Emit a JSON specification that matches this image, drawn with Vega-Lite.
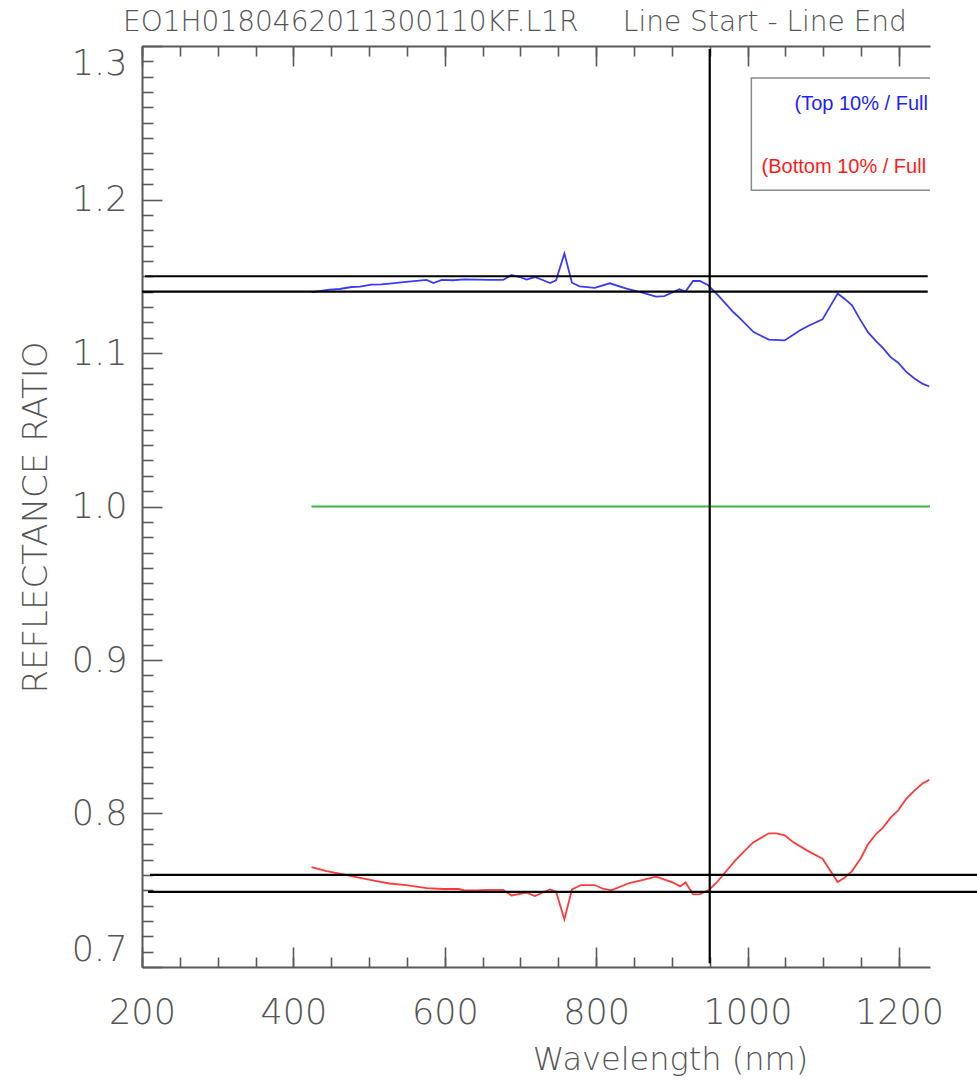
{
  "$schema": "https://vega.github.io/schema/vega-lite/v6.json",
  "width": 788,
  "height": 921,
  "autosize": {"type": "none"},
  "padding": {"left": 142, "top": 46, "right": 47, "bottom": 119},
  "title": {
    "text": "EO1H0180462011300110KF.L1R\u00a0\u00a0\u00a0\u00a0\u00a0Line Start - Line End",
    "anchor": "start",
    "frame": "group",
    "dx": -19,
    "offset": 8,
    "font": "DejaVu Sans",
    "fontSize": 28,
    "fontWeight": 200,
    "color": "#555555"
  },
  "config": {
    "view": {"stroke": null},
    "axis": {"grid": false, "domainColor": "#5a5a5a", "tickColor": "#5a5a5a", "labelColor": "#555555", "titleColor": "#555555"}
  },
  "datasets": {
    "spectra": [
      {"series": "Top 10% / Full Line", "wavelength": 424, "ratio": 1.1397},
      {"series": "Top 10% / Full Line", "wavelength": 448, "ratio": 1.1413},
      {"series": "Top 10% / Full Line", "wavelength": 461, "ratio": 1.1417},
      {"series": "Top 10% / Full Line", "wavelength": 477, "ratio": 1.1430},
      {"series": "Top 10% / Full Line", "wavelength": 488, "ratio": 1.1432},
      {"series": "Top 10% / Full Line", "wavelength": 503, "ratio": 1.1445},
      {"series": "Top 10% / Full Line", "wavelength": 516, "ratio": 1.1447},
      {"series": "Top 10% / Full Line", "wavelength": 527, "ratio": 1.1452},
      {"series": "Top 10% / Full Line", "wavelength": 549, "ratio": 1.1463},
      {"series": "Top 10% / Full Line", "wavelength": 576, "ratio": 1.1476},
      {"series": "Top 10% / Full Line", "wavelength": 585, "ratio": 1.1456},
      {"series": "Top 10% / Full Line", "wavelength": 596, "ratio": 1.1476},
      {"series": "Top 10% / Full Line", "wavelength": 611, "ratio": 1.1474},
      {"series": "Top 10% / Full Line", "wavelength": 626, "ratio": 1.1480},
      {"series": "Top 10% / Full Line", "wavelength": 642, "ratio": 1.1478},
      {"series": "Top 10% / Full Line", "wavelength": 659, "ratio": 1.1476},
      {"series": "Top 10% / Full Line", "wavelength": 677, "ratio": 1.1476},
      {"series": "Top 10% / Full Line", "wavelength": 688, "ratio": 1.1508},
      {"series": "Top 10% / Full Line", "wavelength": 699, "ratio": 1.1495},
      {"series": "Top 10% / Full Line", "wavelength": 708, "ratio": 1.1478},
      {"series": "Top 10% / Full Line", "wavelength": 719, "ratio": 1.1495},
      {"series": "Top 10% / Full Line", "wavelength": 730, "ratio": 1.1474},
      {"series": "Top 10% / Full Line", "wavelength": 739, "ratio": 1.1456},
      {"series": "Top 10% / Full Line", "wavelength": 747, "ratio": 1.1474},
      {"series": "Top 10% / Full Line", "wavelength": 758, "ratio": 1.1648},
      {"series": "Top 10% / Full Line", "wavelength": 768, "ratio": 1.1458},
      {"series": "Top 10% / Full Line", "wavelength": 778, "ratio": 1.1434},
      {"series": "Top 10% / Full Line", "wavelength": 798, "ratio": 1.1424},
      {"series": "Top 10% / Full Line", "wavelength": 818, "ratio": 1.1454},
      {"series": "Top 10% / Full Line", "wavelength": 840, "ratio": 1.1419},
      {"series": "Top 10% / Full Line", "wavelength": 862, "ratio": 1.1391},
      {"series": "Top 10% / Full Line", "wavelength": 879, "ratio": 1.1367},
      {"series": "Top 10% / Full Line", "wavelength": 890, "ratio": 1.1371},
      {"series": "Top 10% / Full Line", "wavelength": 910, "ratio": 1.1415},
      {"series": "Top 10% / Full Line", "wavelength": 918, "ratio": 1.1400},
      {"series": "Top 10% / Full Line", "wavelength": 928, "ratio": 1.1469},
      {"series": "Top 10% / Full Line", "wavelength": 937, "ratio": 1.1469},
      {"series": "Top 10% / Full Line", "wavelength": 948, "ratio": 1.1441},
      {"series": "Top 10% / Full Line", "wavelength": 963, "ratio": 1.1365},
      {"series": "Top 10% / Full Line", "wavelength": 981, "ratio": 1.1267},
      {"series": "Top 10% / Full Line", "wavelength": 989, "ratio": 1.1230},
      {"series": "Top 10% / Full Line", "wavelength": 1008, "ratio": 1.1136},
      {"series": "Top 10% / Full Line", "wavelength": 1028, "ratio": 1.1087},
      {"series": "Top 10% / Full Line", "wavelength": 1049, "ratio": 1.1082},
      {"series": "Top 10% / Full Line", "wavelength": 1069, "ratio": 1.1147},
      {"series": "Top 10% / Full Line", "wavelength": 1080, "ratio": 1.1176},
      {"series": "Top 10% / Full Line", "wavelength": 1099, "ratio": 1.1219},
      {"series": "Top 10% / Full Line", "wavelength": 1119, "ratio": 1.1387},
      {"series": "Top 10% / Full Line", "wavelength": 1128, "ratio": 1.1354},
      {"series": "Top 10% / Full Line", "wavelength": 1138, "ratio": 1.1310},
      {"series": "Top 10% / Full Line", "wavelength": 1148, "ratio": 1.1224},
      {"series": "Top 10% / Full Line", "wavelength": 1159, "ratio": 1.1136},
      {"series": "Top 10% / Full Line", "wavelength": 1170, "ratio": 1.1076},
      {"series": "Top 10% / Full Line", "wavelength": 1179, "ratio": 1.1032},
      {"series": "Top 10% / Full Line", "wavelength": 1189, "ratio": 1.0973},
      {"series": "Top 10% / Full Line", "wavelength": 1199, "ratio": 1.0937},
      {"series": "Top 10% / Full Line", "wavelength": 1209, "ratio": 1.0880},
      {"series": "Top 10% / Full Line", "wavelength": 1220, "ratio": 1.0836},
      {"series": "Top 10% / Full Line", "wavelength": 1231, "ratio": 1.0800},
      {"series": "Top 10% / Full Line", "wavelength": 1240, "ratio": 1.0782},
      {"series": "Bottom 10% / Full Line", "wavelength": 424, "ratio": 0.7651},
      {"series": "Bottom 10% / Full Line", "wavelength": 444, "ratio": 0.7625},
      {"series": "Bottom 10% / Full Line", "wavelength": 466, "ratio": 0.7603},
      {"series": "Bottom 10% / Full Line", "wavelength": 488, "ratio": 0.7581},
      {"series": "Bottom 10% / Full Line", "wavelength": 510, "ratio": 0.7560},
      {"series": "Bottom 10% / Full Line", "wavelength": 527, "ratio": 0.7544},
      {"series": "Bottom 10% / Full Line", "wavelength": 549, "ratio": 0.7534},
      {"series": "Bottom 10% / Full Line", "wavelength": 576, "ratio": 0.7514},
      {"series": "Bottom 10% / Full Line", "wavelength": 598, "ratio": 0.7508},
      {"series": "Bottom 10% / Full Line", "wavelength": 618, "ratio": 0.7508},
      {"series": "Bottom 10% / Full Line", "wavelength": 626, "ratio": 0.7499},
      {"series": "Bottom 10% / Full Line", "wavelength": 642, "ratio": 0.7499},
      {"series": "Bottom 10% / Full Line", "wavelength": 659, "ratio": 0.7503},
      {"series": "Bottom 10% / Full Line", "wavelength": 677, "ratio": 0.7503},
      {"series": "Bottom 10% / Full Line", "wavelength": 688, "ratio": 0.7466},
      {"series": "Bottom 10% / Full Line", "wavelength": 708, "ratio": 0.7484},
      {"series": "Bottom 10% / Full Line", "wavelength": 719, "ratio": 0.7462},
      {"series": "Bottom 10% / Full Line", "wavelength": 739, "ratio": 0.7505},
      {"series": "Bottom 10% / Full Line", "wavelength": 747, "ratio": 0.7490},
      {"series": "Bottom 10% / Full Line", "wavelength": 758, "ratio": 0.7310},
      {"series": "Bottom 10% / Full Line", "wavelength": 768, "ratio": 0.7505},
      {"series": "Bottom 10% / Full Line", "wavelength": 780, "ratio": 0.7534},
      {"series": "Bottom 10% / Full Line", "wavelength": 798, "ratio": 0.7534},
      {"series": "Bottom 10% / Full Line", "wavelength": 809, "ratio": 0.7510},
      {"series": "Bottom 10% / Full Line", "wavelength": 820, "ratio": 0.7499},
      {"series": "Bottom 10% / Full Line", "wavelength": 844, "ratio": 0.7547},
      {"series": "Bottom 10% / Full Line", "wavelength": 862, "ratio": 0.7568},
      {"series": "Bottom 10% / Full Line", "wavelength": 879, "ratio": 0.7588},
      {"series": "Bottom 10% / Full Line", "wavelength": 901, "ratio": 0.7551},
      {"series": "Bottom 10% / Full Line", "wavelength": 911, "ratio": 0.7525},
      {"series": "Bottom 10% / Full Line", "wavelength": 918, "ratio": 0.7551},
      {"series": "Bottom 10% / Full Line", "wavelength": 928, "ratio": 0.7473},
      {"series": "Bottom 10% / Full Line", "wavelength": 937, "ratio": 0.7475},
      {"series": "Bottom 10% / Full Line", "wavelength": 948, "ratio": 0.7499},
      {"series": "Bottom 10% / Full Line", "wavelength": 959, "ratio": 0.7549},
      {"series": "Bottom 10% / Full Line", "wavelength": 970, "ratio": 0.7614},
      {"series": "Bottom 10% / Full Line", "wavelength": 985, "ratio": 0.7701},
      {"series": "Bottom 10% / Full Line", "wavelength": 1007, "ratio": 0.7810},
      {"series": "Bottom 10% / Full Line", "wavelength": 1028, "ratio": 0.7871},
      {"series": "Bottom 10% / Full Line", "wavelength": 1038, "ratio": 0.7871},
      {"series": "Bottom 10% / Full Line", "wavelength": 1049, "ratio": 0.7858},
      {"series": "Bottom 10% / Full Line", "wavelength": 1060, "ratio": 0.7814},
      {"series": "Bottom 10% / Full Line", "wavelength": 1080, "ratio": 0.7755},
      {"series": "Bottom 10% / Full Line", "wavelength": 1099, "ratio": 0.7705},
      {"series": "Bottom 10% / Full Line", "wavelength": 1119, "ratio": 0.7553},
      {"series": "Bottom 10% / Full Line", "wavelength": 1128, "ratio": 0.7581},
      {"series": "Bottom 10% / Full Line", "wavelength": 1138, "ratio": 0.7625},
      {"series": "Bottom 10% / Full Line", "wavelength": 1150, "ratio": 0.7712},
      {"series": "Bottom 10% / Full Line", "wavelength": 1159, "ratio": 0.7799},
      {"series": "Bottom 10% / Full Line", "wavelength": 1170, "ratio": 0.7868},
      {"series": "Bottom 10% / Full Line", "wavelength": 1179, "ratio": 0.7908},
      {"series": "Bottom 10% / Full Line", "wavelength": 1189, "ratio": 0.7973},
      {"series": "Bottom 10% / Full Line", "wavelength": 1199, "ratio": 0.8021},
      {"series": "Bottom 10% / Full Line", "wavelength": 1209, "ratio": 0.8092},
      {"series": "Bottom 10% / Full Line", "wavelength": 1220, "ratio": 0.8147},
      {"series": "Bottom 10% / Full Line", "wavelength": 1231, "ratio": 0.8195},
      {"series": "Bottom 10% / Full Line", "wavelength": 1240, "ratio": 0.8219}
    ],
    "unity": [
      {"level": 1.0, "from": 424, "to": 1241}
    ],
    "hlines": [
      {"level": 1.15, "from": 204, "to": 1238},
      {"level": 1.14, "from": 200, "to": 1238},
      {"level": 0.76, "from": 210.5, "to": 1320},
      {"level": 0.749, "from": 208, "to": 1320}
    ],
    "marker": [
      {"at": 950, "low": 0.7025, "high": 1.298}
    ]
  },
  "resolve": {"axis": {"x": "independent", "y": "independent"}},
  "layer": [
    {
      "data": {"name": "spectra"},
      "mark": {"type": "line", "strokeWidth": 1.8, "clip": true},
      "encoding": {
        "x": {
          "field": "wavelength", "type": "quantitative",
          "scale": {"domain": [200, 1241], "nice": false, "zero": false},
          "axis": {
            "orient": "bottom",
            "values": [200, 400, 600, 800, 1000, 1200],
            "format": "d",
            "tickSize": -20, "tickWidth": 1.6,
            "domain": true, "domainWidth": 2,
            "labelFont": "DejaVu Sans",
            "labelFontSize": 35, "labelFontWeight": 200,
            "labelPadding": 48, "labelFlush": false,
            "title": "Wavelength (nm)",
            "titleFont": "DejaVu Sans",
            "titleFontSize": 32, "titleFontWeight": 200,
            "titleX": 528, "titleY": 102, "titleBaseline": "alphabetic"
          }
        },
        "y": {
          "field": "ratio", "type": "quantitative",
          "scale": {"domain": [0.7, 1.3], "nice": false, "zero": false},
          "axis": {
            "orient": "left",
            "values": [0.7, 0.8, 0.9, 1.0, 1.1, 1.2, 1.3],
            "format": ".1f",
            "tickSize": -20, "tickWidth": 1.6,
            "domain": true, "domainWidth": 2,
            "labelFont": "DejaVu Sans",
            "labelFontSize": 35, "labelFontWeight": 200,
            "labelPadding": 35, "labelFlush": true,
            "title": "REFLECTANCE RATIO",
            "titleFont": "DejaVu Sans",
            "titleFontSize": 34, "titleFontWeight": 200,
            "titleX": -96, "titleY": 471, "titleBaseline": "alphabetic"
          }
        },
        "color": {
          "field": "series", "type": "nominal",
          "scale": {"domain": ["Top 10% / Full Line", "Bottom 10% / Full Line"], "range": ["#3a3aff", "#ff3a3a"]},
          "legend": null
        }
      }
    },
    {
      "data": {"name": "unity"},
      "mark": {"type": "rule", "color": "#3cb83c", "strokeWidth": 1.8, "clip": true},
      "encoding": {
        "x": {
          "field": "from", "type": "quantitative",
          "axis": {
            "orient": "bottom",
            "values": [200, 250, 300, 350, 400, 450, 500, 550, 600, 650, 700, 750, 800, 850, 900, 950, 1000, 1050, 1100, 1150, 1200],
            "tickSize": -10, "tickWidth": 1.6, "domain": false, "labels": false, "title": null
          }
        },
        "x2": {"field": "to"},
        "y": {
          "field": "level", "type": "quantitative",
          "axis": {
            "orient": "left",
            "values": [0.71, 0.72, 0.73, 0.74, 0.75, 0.76, 0.77, 0.78, 0.79, 0.81, 0.82, 0.83, 0.84, 0.85, 0.86, 0.87, 0.88, 0.89, 0.91, 0.92, 0.93, 0.94, 0.95, 0.96, 0.97, 0.98, 0.99, 1.01, 1.02, 1.03, 1.04, 1.05, 1.06, 1.07, 1.08, 1.09, 1.11, 1.12, 1.13, 1.14, 1.15, 1.16, 1.17, 1.18, 1.19, 1.21, 1.22, 1.23, 1.24, 1.25, 1.26, 1.27, 1.28, 1.29],
            "tickSize": -11, "tickWidth": 1.6, "domain": false, "labels": false, "title": null
          }
        }
      }
    },
    {
      "data": {"name": "hlines"},
      "mark": {"type": "rule", "color": "#000000", "strokeWidth": 2.2, "clip": false},
      "encoding": {
        "x": {
          "field": "from", "type": "quantitative",
          "axis": {
            "orient": "top",
            "values": [200, 400, 600, 800, 1000, 1200],
            "tickSize": -20, "tickWidth": 1.6, "domain": true, "domainWidth": 2, "labels": false, "title": null
          }
        },
        "x2": {"field": "to"},
        "y": {"field": "level", "type": "quantitative", "axis": null}
      }
    },
    {
      "data": {"name": "marker"},
      "mark": {"type": "rule", "color": "#000000", "strokeWidth": 2.2, "clip": true},
      "encoding": {
        "x": {
          "field": "at", "type": "quantitative",
          "axis": {
            "orient": "top",
            "values": [200, 250, 300, 350, 400, 450, 500, 550, 600, 650, 700, 750, 800, 850, 900, 950, 1000, 1050, 1100, 1150, 1200],
            "tickSize": -10, "tickWidth": 1.6, "domain": false, "labels": false, "title": null
          }
        },
        "y": {"field": "low", "type": "quantitative", "axis": null},
        "y2": {"field": "high"}
      }
    },
    {
      "data": {"values": [{}]},
      "mark": {"type": "rect", "fill": "#ffffff", "stroke": "#8a8a8a", "strokeWidth": 1.5, "clip": true},
      "encoding": {
        "x": {"datum": 1005, "type": "quantitative", "axis": null},
        "x2": {"datum": 1320},
        "y": {"datum": 1.2791, "type": "quantitative", "axis": null},
        "y2": {"datum": 1.2061}
      }
    },
    {
      "data": {"values": [{}]},
      "mark": {"type": "text", "text": "(Top 10% / Full Line)", "color": "#1e1eff", "font": "Liberation Sans", "fontSize": 20, "align": "left", "baseline": "alphabetic", "clip": true},
      "encoding": {
        "x": {"datum": 1062, "type": "quantitative", "axis": null},
        "y": {"datum": 1.2583, "type": "quantitative", "axis": null}
      }
    },
    {
      "data": {"values": [{}]},
      "mark": {"type": "text", "text": "(Bottom 10% / Full Line)", "color": "#ff1a1a", "font": "Liberation Sans", "fontSize": 20, "align": "left", "baseline": "alphabetic", "clip": true},
      "encoding": {
        "x": {"datum": 1018.5, "type": "quantitative", "axis": null},
        "y": {"datum": 1.2172, "type": "quantitative", "axis": null}
      }
    }
  ]
}
